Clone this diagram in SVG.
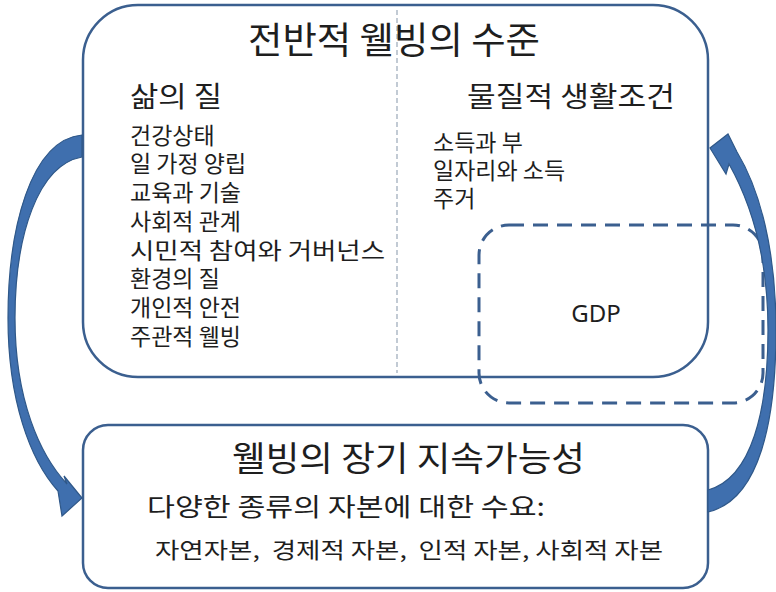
<svg xmlns="http://www.w3.org/2000/svg" width="776" height="592" viewBox="0 0 776 592">
<style>
.box{fill:#fff;stroke:#3b5f8f;stroke-width:2.5}
.gdp{fill:none;stroke:#3b5f8f;stroke-width:3;stroke-dasharray:15 9}
.div{stroke:#9aa8b8;stroke-width:1.2;stroke-dasharray:5 3}
.arr{fill:#3f6fae;stroke:#2f5889;stroke-width:1.2}
text{font-family:"Noto Sans CJK KR","Noto Sans",sans-serif;fill:#1e1e1e;white-space:pre}
.t1{font-size:37px}
.t1b{font-size:34px}
.t2{font-size:28px}
.t3{font-size:23px}
.t4{font-size:25px}
.t5{font-size:22px}
.lat{font-family:"Noto Sans","Open Sans",sans-serif;font-size:24px}
</style>
<g id="top-box">
<rect class="box" x="83" y="5" width="625" height="372" rx="55" ry="55"/>
<line class="div" x1="397" y1="10" x2="397" y2="373"/>
<text class="t1" x="248" y="54" textLength="292" lengthAdjust="spacingAndGlyphs">전반적 웰빙의 수준</text>
<text class="t2" x="130" y="107" textLength="92" lengthAdjust="spacingAndGlyphs">삶의 질</text>
<text class="t2" x="467" y="107" textLength="208" lengthAdjust="spacingAndGlyphs">물질적 생활조건</text>
<text class="t3" x="130" y="144">건강상태</text>
<text class="t3" x="130" y="172">일 가정 양립</text>
<text class="t3" x="130" y="201">교육과 기술</text>
<text class="t3" x="130" y="230">사회적 관계</text>
<text class="t3" x="130" y="259" textLength="255" lengthAdjust="spacingAndGlyphs">시민적 참여와 거버넌스</text>
<text class="t3" x="130" y="287">환경의 질</text>
<text class="t3" x="130" y="316">개인적 안전</text>
<text class="t3" x="130" y="345">주관적 웰빙</text>
<text class="t3" x="433" y="151">소득과 부</text>
<text class="t3" x="433" y="179">일자리와 소득</text>
<text class="t3" x="433" y="207">주거</text>
</g>
<g id="gdp-box">
<rect class="gdp" x="479" y="225" width="284" height="178" rx="30" ry="30"/>
<text class="lat" x="596" y="322" text-anchor="middle">GDP</text>
</g>
<g id="bottom-box">
<rect class="box" x="83" y="425" width="625" height="163" rx="25" ry="25"/>
<text class="t1b" x="232" y="471" textLength="353" lengthAdjust="spacingAndGlyphs">웰빙의 장기 지속가능성</text>
<text class="t4" x="147" y="516" textLength="398" lengthAdjust="spacingAndGlyphs">다양한 종류의 자본에 대한 수요:</text>
<text class="t5" x="155" y="558" textLength="508" lengthAdjust="spacingAndGlyphs">자연자본,  경제적 자본,  인적 자본, 사회적 자본</text>
</g>
<g id="connectors">
<path class="arr" d="M82,135 C30,140 8,230 8,318 C8,400 30,460 58,491 L62,516 L82,498 L64,476 L67,484 C40,455 15,400 15,318 C15,235 38,165 82,157 Z"/>
<path class="arr" d="M708,512 C760,500 776,420 776,330 C776,250 760,190 737,152 L728,134 L710,148 L726,174 L729,164 C752,205 768,260 768,330 C768,410 752,478 708,490 Z"/>
</g>
</svg>
